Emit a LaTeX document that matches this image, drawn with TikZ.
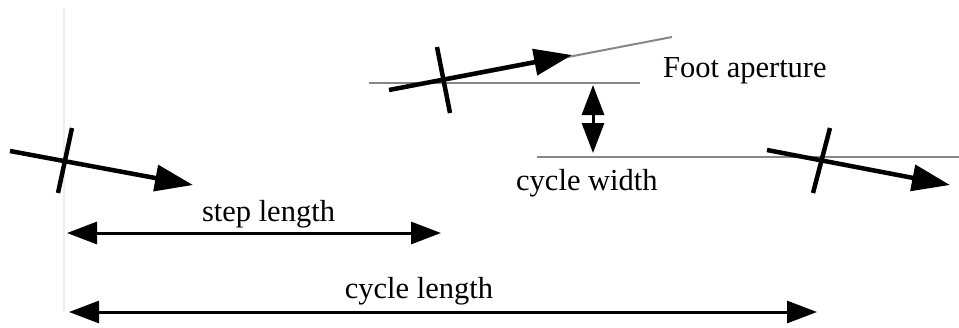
\documentclass[tikz,border=0pt]{standalone}
\usepackage{fontspec}
\setmainfont{Liberation Serif}
\usetikzlibrary{arrows.meta}
\tikzset{
  foot/.style={line width=4.5pt, -{Triangle[length=38pt,width=26pt]}},
  tick/.style={line width=4.5pt},
  dim/.style={line width=3pt, {Triangle[length=30pt,width=22pt]}-{Triangle[length=30pt,width=22pt]}},
  guide/.style={line width=2pt, draw=black!47},
  lbl/.style={inner sep=0pt, font=\fontsize{30.5}{36}\selectfont},
}
\begin{document}
\begin{tikzpicture}[x=1pt,y=-1pt]
\useasboundingbox (0,0) rectangle (959,327);
% reference vertical line
\coordinate (vt) at (64,8);
\coordinate (vb) at (64,312);
\draw[line width=1.5pt, black!7] (vt) -- (vb);
% foot 1
\coordinate (f1s) at (10,151);
\coordinate (f1e) at (193,185);
\coordinate (t1a) at (72,128);
\coordinate (t1b) at (58,193);
\draw[foot] (f1s) -- (f1e);
\draw[tick] (t1a) -- (t1b);
% foot 2 with guides
\coordinate (g1s) at (369,83);
\coordinate (g1e) at (640,83);
\draw[guide] (g1s) -- (g1e);
\coordinate (f2c) at (443,81);
\coordinate (f2g) at (672,37);
\draw[guide] (f2c) -- (f2g);
\coordinate (f2s) at (389,90);
\coordinate (f2e) at (572,55);
\coordinate (t2a) at (437,47);
\coordinate (t2b) at (450,113);
\draw[foot] (f2s) -- (f2e);
\draw[tick] (t2a) -- (t2b);
% lower guide
\coordinate (g2s) at (537,157);
\coordinate (g2e) at (959,157);
\draw[guide] (g2s) -- (g2e);
% foot 3
\coordinate (f3s) at (767,150);
\coordinate (f3e) at (950,185);
\coordinate (t3a) at (830,128);
\coordinate (t3b) at (813,193);
\draw[foot] (f3s) -- (f3e);
\draw[tick] (t3a) -- (t3b);
% cycle width arrow
\coordinate (cwt) at (593,85);
\coordinate (cwb) at (593,153);
\draw[dim] (cwt) -- (cwb);
% step length
\coordinate (sl1) at (67,233);
\coordinate (sl2) at (441,233);
\draw[dim] (sl1) -- (sl2);
% cycle length
\coordinate (cl1) at (69,312);
\coordinate (cl2) at (817,312);
\draw[dim] (cl1) -- (cl2);
% labels
\node[lbl, anchor=base] (steplbl) at (268.5,221) {step length};
\node[lbl, anchor=base] (cyclbl) at (419,298) {cycle length};
\node[lbl, anchor=base west] (footlbl) at (663,77) {Foot aperture};
\node[lbl, anchor=base west] (cwlbl) at (516,190) {cycle width};
\end{tikzpicture}
\end{document}
